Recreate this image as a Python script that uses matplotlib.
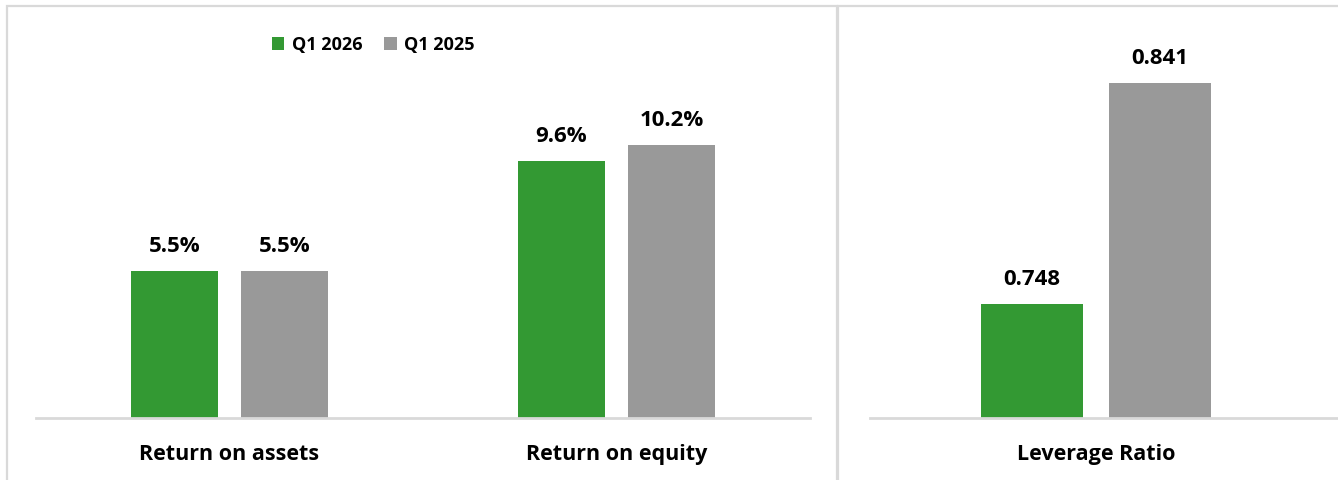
import matplotlib.pyplot as plt
from matplotlib.patches import Rectangle
import numpy as np

plt.rcParams['font.family'] = ['Open Sans', 'DejaVu Sans']
plt.rcParams['font.weight'] = 'bold'

# data
series = ['Q1 2026', 'Q1 2025']
colors = ['#339933', '#999999']

ret_cats = ['Return on assets', 'Return on equity']
ret_2026 = [5.5, 9.6]
ret_2025 = [5.5, 10.2]

lev_cats = ['Leverage Ratio']
lev_2026 = [0.748]
lev_2025 = [0.841]

W, H = 1338, 480
fig = plt.figure(figsize=(W / 100, H / 100), dpi=100)

# panel borders
border = '#D9D9D9'
fig.patches.append(Rectangle((7 / W, -0.05), 830 / W, 1.05 - 6 / H, transform=fig.transFigure,
                             fill=False, edgecolor=border, linewidth=1.6))
fig.patches.append(Rectangle((838 / W, -0.05), 0.5, 1.05 - 6 / H, transform=fig.transFigure,
                             fill=False, edgecolor=border, linewidth=1.6))

def style(ax):
    for s in ['top', 'right', 'left']:
        ax.spines[s].set_visible(False)
    ax.spines['bottom'].set_color('#D9D9D9')
    ax.spines['bottom'].set_linewidth(2)
    ax.set_yticks([])
    ax.tick_params(axis='x', length=0, pad=19, labelsize=15.5)
    for t in ax.get_xticklabels():
        t.set_fontweight('bold')

# left panel: returns
ax1 = fig.add_axes([36 / W, 1 - 418 / H, 774 / W, 348 / H])
x = np.arange(len(ret_cats))
bw = 0.225
off = 0.142
b1 = ax1.bar(x - off, ret_2026, bw, color=colors[0], label=series[0])
b2 = ax1.bar(x + off, ret_2025, bw, color=colors[1], label=series[1])
for bars, vals in [(b1, ret_2026), (b2, ret_2025)]:
    for r, v in zip(bars, vals):
        ax1.annotate(f'{v:.1f}%', (r.get_x() + r.get_width() / 2, v), xytext=(0, 10),
                     textcoords='offset points', ha='center', va='bottom',
                     fontsize=16, fontweight='bold')
ax1.set_xlim(-0.5, 1.5)
ax1.set_ylim(0, 13)
ax1.set_xticks(x)
ax1.set_xticklabels(ret_cats)
style(ax1)

# right panel: leverage
ax2 = fig.add_axes([870 / W, 1 - 418 / H, 468 / W, 356 / H])
x2 = np.arange(len(lev_cats))
bw2 = 0.218
off2 = 0.137
c1 = ax2.bar(x2 - off2, lev_2026, bw2, color=colors[0])
c2 = ax2.bar(x2 + off2, lev_2025, bw2, color=colors[1])
for bars, vals in [(c1, lev_2026), (c2, lev_2025)]:
    for r, v in zip(bars, vals):
        ax2.annotate(f'{v:.3f}', (r.get_x() + r.get_width() / 2, v), xytext=(0, 10),
                     textcoords='offset points', ha='center', va='bottom',
                     fontsize=16, fontweight='bold')
ax2.set_xlim(-0.483, 0.517)
ax2.set_ylim(0.70, 0.85)
ax2.set_xticks(x2)
ax2.set_xticklabels(lev_cats)
style(ax2)

fig.legend(handles=[b1, b2], labels=series, loc='center', bbox_to_anchor=(373 / W, 1 - 45 / H),
           ncol=2, frameon=False, handlelength=0.7, handleheight=0.7,
           handletextpad=0.4, columnspacing=1.2, prop={'weight': 'bold', 'size': 13})

fig.savefig('out.png', dpi=100)
